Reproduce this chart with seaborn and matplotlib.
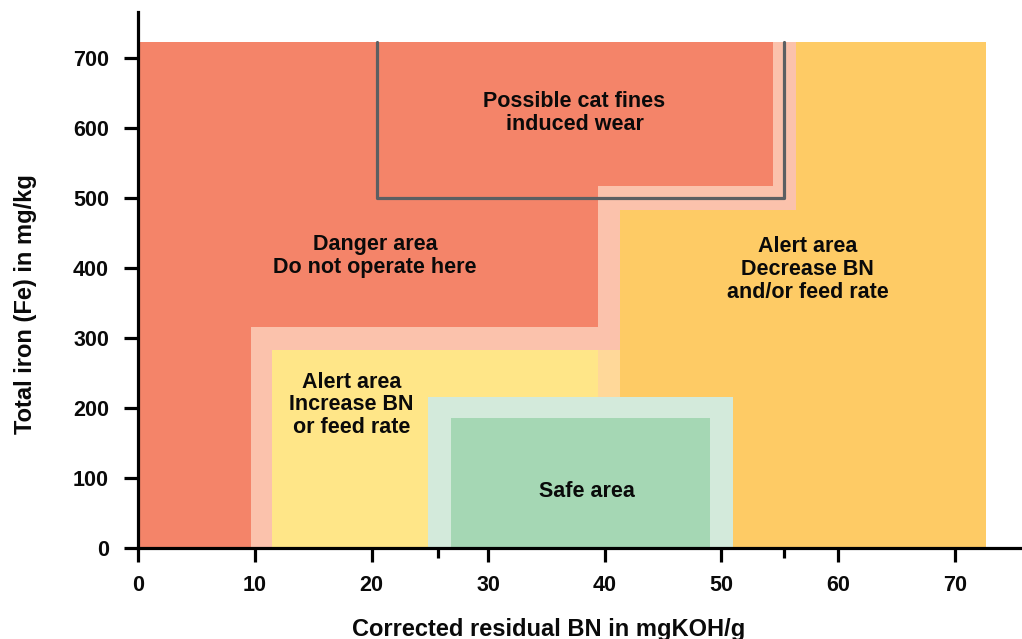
import matplotlib
matplotlib.use("Agg")
import matplotlib.pyplot as plt
from matplotlib.patches import Polygon, Rectangle
import seaborn as sns

# Operating-zone boundaries: residual BN (mgKOH/g) and total iron (mg/kg)
danger_bn = [0, 9.7, 9.7, 39.4, 39.4, 54.4, 54.4, 0]
danger_fe = [0, 0, 316, 316, 517, 517, 723, 723]
buffer_bn = [0, 11.5, 11.5, 41.3, 41.3, 56.4, 56.4, 0]
buffer_fe = [0, 0, 282, 282, 483, 483, 723, 723]
alert_high_bn = [0, 72.7]
alert_high_fe = [0, 723]
alert_low_bn = [11.5, 39.4]
alert_low_fe = [0, 282]
alert_joint_bn = [39.4, 41.3]
alert_joint_fe = [0, 282]
safe_outer_bn = [24.85, 51.0]
safe_outer_fe = [0, 215]
safe_bn = [26.8, 49.05]
safe_fe = [0, 185]
catfines_bn = [20.5, 20.5, 55.4, 55.4]
catfines_fe = [723, 500, 500, 723]

x_ticks = [0, 10, 20, 30, 40, 50, 60, 70]
x_minor = [25.7, 55.4]
y_ticks = [0, 100, 200, 300, 400, 500, 600, 700]

labels = [
    ("Possible cat fines\ninduced wear", 37.4, 621),
    ("Danger area\nDo not operate here", 20.3, 417),
    ("Alert area\nDecrease BN\nand/or feed rate", 57.4, 397),
    ("Alert area\nIncrease BN\nor feed rate", 18.3, 204),
    ("Safe area", 38.5, 80),
]

sns.set_theme(style="ticks")
plt.rcParams["font.family"] = ["Liberation Sans", "DejaVu Sans"]
plt.rcParams["font.weight"] = "bold"

fig = plt.figure(figsize=(10.22, 6.39), dpi=100)
ax = fig.add_axes([0.1353, 0.1429, 0.8627, 0.8388])

c_orange = "#FECB65"
c_yellow = "#FFE688"
c_peach = "#FFD899"
c_pink = "#FBC2AC"
c_red = "#F48469"
c_green_light = "#D3EADB"
c_green = "#A5D7B4"

def rect(bn, fe, color):
    ax.add_patch(Rectangle((bn[0], fe[0]), bn[1] - bn[0], fe[1] - fe[0],
                           facecolor=color, edgecolor="none", zorder=1))

rect(alert_high_bn, alert_high_fe, c_orange)
rect(alert_low_bn, alert_low_fe, c_yellow)
rect(alert_joint_bn, alert_joint_fe, c_peach)
ax.add_patch(Polygon(list(zip(buffer_bn, buffer_fe)), closed=True,
                     facecolor=c_pink, edgecolor="none", zorder=1))
ax.add_patch(Polygon(list(zip(danger_bn, danger_fe)), closed=True,
                     facecolor=c_red, edgecolor="none", zorder=1))
rect(safe_outer_bn, safe_outer_fe, c_green_light)
rect(safe_bn, safe_fe, c_green)

sns.lineplot(x=catfines_bn, y=catfines_fe, sort=False, estimator=None,
             color="#5C5F62", linewidth=2.3, ax=ax, zorder=2)

for text, bx, fy in labels:
    ax.text(bx, fy, text, ha="center", va="center", fontsize=15.5,
            fontweight="bold", color="#0A0A0A", linespacing=1.12, zorder=3)

ax.set_xlim(0, 75.6)
ax.set_ylim(0, 766)
ax.set_xticks(x_ticks)
ax.set_xticks(x_minor, minor=True)
ax.set_yticks(y_ticks)
ax.tick_params(axis="both", which="major", direction="out", length=10,
               width=2.3, color="black", labelsize=15.5, labelcolor="#0A0A0A")
ax.tick_params(axis="y", which="major", pad=11)
ax.tick_params(axis="x", which="major", pad=10)
ax.tick_params(axis="x", which="minor", direction="out", length=7,
               width=2.3, color="black")
for lbl in ax.get_xticklabels() + ax.get_yticklabels():
    lbl.set_fontweight("bold")

sns.despine(ax=ax)
for side in ("left", "bottom"):
    ax.spines[side].set_linewidth(2.3)
    ax.spines[side].set_color("black")
    ax.spines[side].set_zorder(4)

ax.set_xlabel("Corrected residual BN in mgKOH/g", fontsize=17, fontweight="bold",
              color="#0A0A0A")
ax.set_ylabel("Total iron (Fe) in mg/kg", fontsize=17, fontweight="bold",
              color="#0A0A0A")
ax.xaxis.set_label_coords(0.465, -0.131)
ax.yaxis.set_label_coords(-0.115, 0.454)

fig.savefig("out.png", dpi=100)
